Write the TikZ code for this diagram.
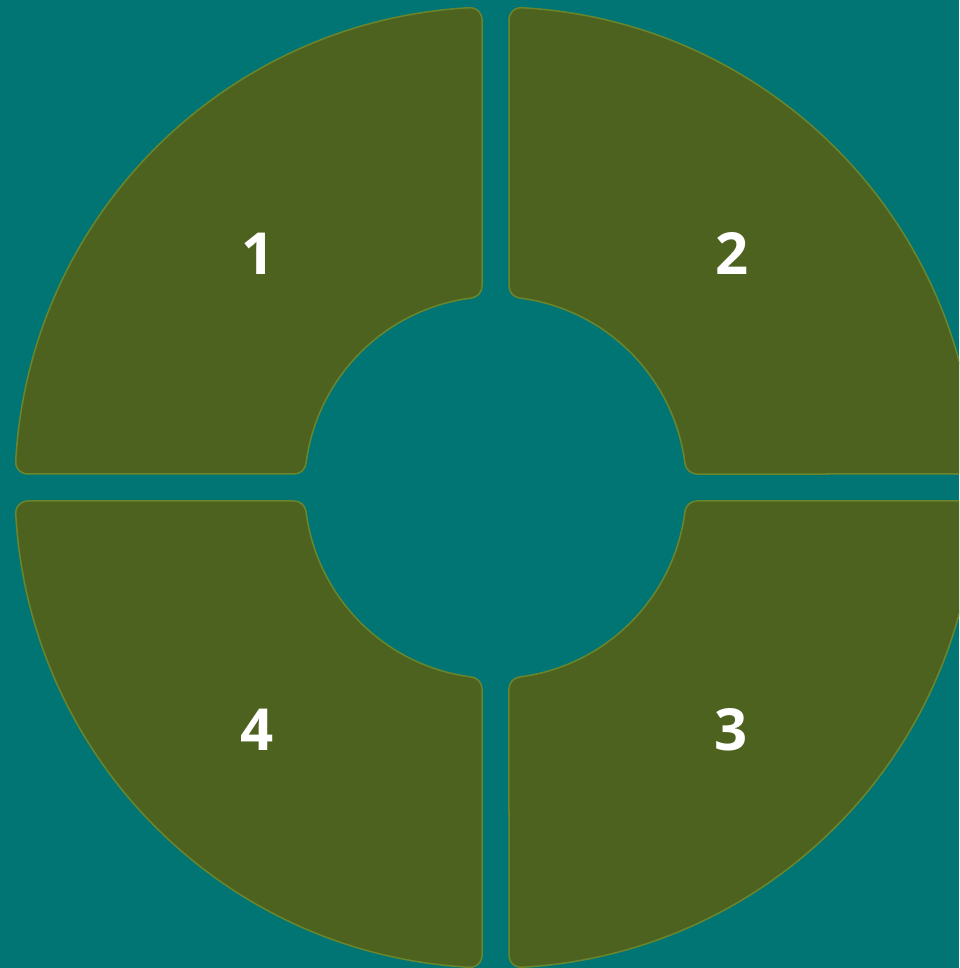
\documentclass[tikz,border=0pt]{standalone}
\usepackage{fontspec}
\setmainfont{Open Sans}
\definecolor{bgteal}{HTML}{007573}
\definecolor{segfill}{HTML}{4E6220}
\definecolor{segline}{HTML}{6A862C}
\tikzset{
  seg/.style={fill=segfill, draw=segline, line width=1.5pt},
  numlabel/.style={text=white, font=\fontsize{58}{60}\selectfont\bfseries, inner sep=0pt}
}
\begin{document}
\begin{tikzpicture}[x=1pt,y=1pt]
\pgfmathsetmacro\Rout{480.5}
\pgfmathsetmacro\Rin{191}
\pgfmathsetmacro\gp{13.5}
\pgfmathsetmacro\rc{12}
\pgfmathsetmacro\aout{asin((\gp+\rc)/(\Rout-\rc))}
\pgfmathsetmacro\ain{asin((\gp+\rc)/(\Rin+\rc))}
\pgfmathsetmacro\xout{(\Rout-\rc)*cos(\aout)}
\pgfmathsetmacro\xin{(\Rin+\rc)*cos(\ain)}
\useasboundingbox (-495.5,-480.5) rectangle (463.5,487.5);
\fill[bgteal] (-495.5,-480.5) rectangle (463.5,487.5);
\clip (-495.5,-480.5) rectangle (463.5,487.5);
\foreach \rot in {0,-90,-180,-270}{
\begin{scope}[rotate=\rot]
\path[seg] (-\xout,\gp) -- (-\xin,\gp)
  arc[start angle=-90, end angle=-\ain, radius=\rc]
  arc[start angle=180-\ain, end angle=90+\ain, radius=\Rin]
  arc[start angle=-90+\ain, end angle=0, radius=\rc]
  -- (-\gp,\xout)
  arc[start angle=0, end angle=90+\aout, radius=\rc]
  arc[start angle=90+\aout, end angle=180-\aout, radius=\Rout]
  arc[start angle=180-\aout, end angle=270, radius=\rc]
  -- cycle;
\end{scope}
}
\node[numlabel] (n1) at (-237.5,233.5) {1};
\node[numlabel] (n2) at (236.5,233.5) {2};
\node[numlabel] (n3) at (235.5,-242.5) {3};
\node[numlabel] (n4) at (-238.5,-242.5) {4};
\end{tikzpicture}
\end{document}
